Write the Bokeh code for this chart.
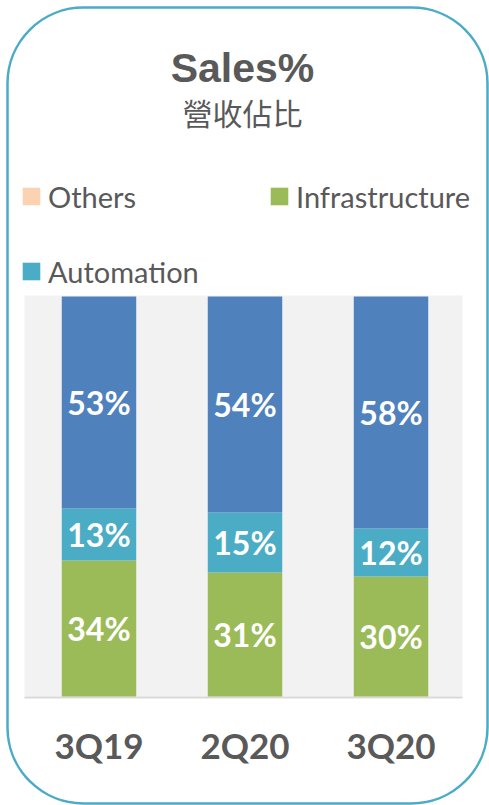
from bokeh.plotting import figure
from bokeh.models import (ColumnDataSource, FactorRange, Label, LabelSet, Legend,
                          LegendItem, BoxAnnotation, Range1d)
from bokeh.embed import file_html
from bokeh.resources import INLINE
from bokeh.core.properties import value

# ---- data ----
quarters = ["3Q19", "2Q20", "3Q20"]
infrastructure = [34, 31, 30]
automation = [13, 15, 12]
power_electronics = [53, 54, 58]
others = [0, 0, 0]

title_text = "Sales%"
subtitle_text = "營收佔比"

GRAY = "#595959"
C_INFRA = "#9bbb59"
C_AUTO = "#4bacc6"
C_POWER = "#4f81bd"
C_OTHERS = "#fbd3b3"

src = ColumnDataSource(dict(quarter=quarters, infra=infrastructure, auto=automation,
                            power=power_electronics, others=others))

W, H = 489, 805
# the frame covers the whole canvas; 0..100 % maps to y = 696..296 px
p = figure(x_range=FactorRange(*quarters, range_padding=0.1164, range_padding_units="percent"),
           y_range=Range1d(-27.25, 174),
           width=W, height=H, output_backend="svg", toolbar_location=None,
           min_border=0, x_axis_location=None, y_axis_location=None)
p.background_fill_color = "white"
p.border_fill_color = "white"
p.outline_line_color = None
p.xgrid.grid_line_color = None
p.ygrid.grid_line_color = None

# plot-area background and baseline
p.add_layout(BoxAnnotation(left=24, right=462, bottom=0, top=100.25,
                           left_units="screen", right_units="screen",
                           fill_color="#f2f2f2", fill_alpha=1, line_color=None,
                           level="underlay"))
p.add_layout(BoxAnnotation(left=24, right=462, bottom=-0.5, top=0,
                           left_units="screen", right_units="screen",
                           fill_color="#d9d9d9", fill_alpha=1, line_color=None,
                           level="underlay"))

rs = p.vbar_stack(["infra", "auto", "power", "others"], x="quarter", width=0.51, source=src,
                  color=[C_INFRA, C_AUTO, C_POWER, C_OTHERS], line_color=None)

# segment labels
lab_x, lab_y, lab_t = [], [], []
for i, q in enumerate(quarters):
    base = 0
    for series in (infrastructure, automation, power_electronics):
        v = series[i]
        lab_x.append(q)
        lab_y.append(base + v / 2)
        lab_t.append(f"{v}%")
        base += v
lsrc = ColumnDataSource(dict(x=lab_x, y=lab_y, t=lab_t))
p.add_layout(LabelSet(x="x", y="y", text="t", source=lsrc, text_align="center",
                      text_baseline="middle", text_color="white", text_font=value("Lato"),
                      text_font_style="bold", text_font_size="32px"))

# category labels (x axis)
csrc = ColumnDataSource(dict(x=quarters, y=[0] * len(quarters)))
p.add_layout(LabelSet(x="x", y="y", text="x", source=csrc, y_offset=-48,
                      text_align="center", text_baseline="middle", text_color=GRAY,
                      text_font=value("Lato"), text_font_style="bold",
                      text_font_size="35px"))

# title / subtitle
p.add_layout(Label(x=242, y=H - 67, x_units="screen", y_units="screen", text=title_text,
                   text_align="center", text_baseline="middle", text_color=GRAY,
                   text_font="Liberation Sans", text_font_style="bold", text_font_size="41px"))
p.add_layout(Label(x=242, y=H - 111, x_units="screen", y_units="screen", text=subtitle_text,
                   text_align="center", text_baseline="middle", text_color=GRAY,
                   text_font="Noto Sans CJK TC", text_font_size="30px"))

# legend (filled column by column)
legend = Legend(items=[LegendItem(label="Others", renderers=[rs[3]]),
                       LegendItem(label="Automation", renderers=[rs[1]]),
                       LegendItem(label="Infrastructure", renderers=[rs[0]])],
                ncols=2, location=(20, H - 297.5), padding=0, margin=0, spacing=22,
                glyph_width=22, glyph_height=22, label_standoff=6, label_width=198,
                label_height=53, label_text_font="Lato", label_text_font_size="29px",
                label_text_color=GRAY, background_fill_alpha=0, border_line_color=None)
p.add_layout(legend)

# rounded frame
p.add_layout(BoxAnnotation(left=7, right=487, top=H - 7, bottom=H - 803,
                           left_units="screen", right_units="screen",
                           top_units="screen", bottom_units="screen",
                           border_radius=76, fill_alpha=0, line_color="#4bacc6",
                           line_alpha=1, line_width=2.5))

open("out.html", "w").write(file_html(p, INLINE))
